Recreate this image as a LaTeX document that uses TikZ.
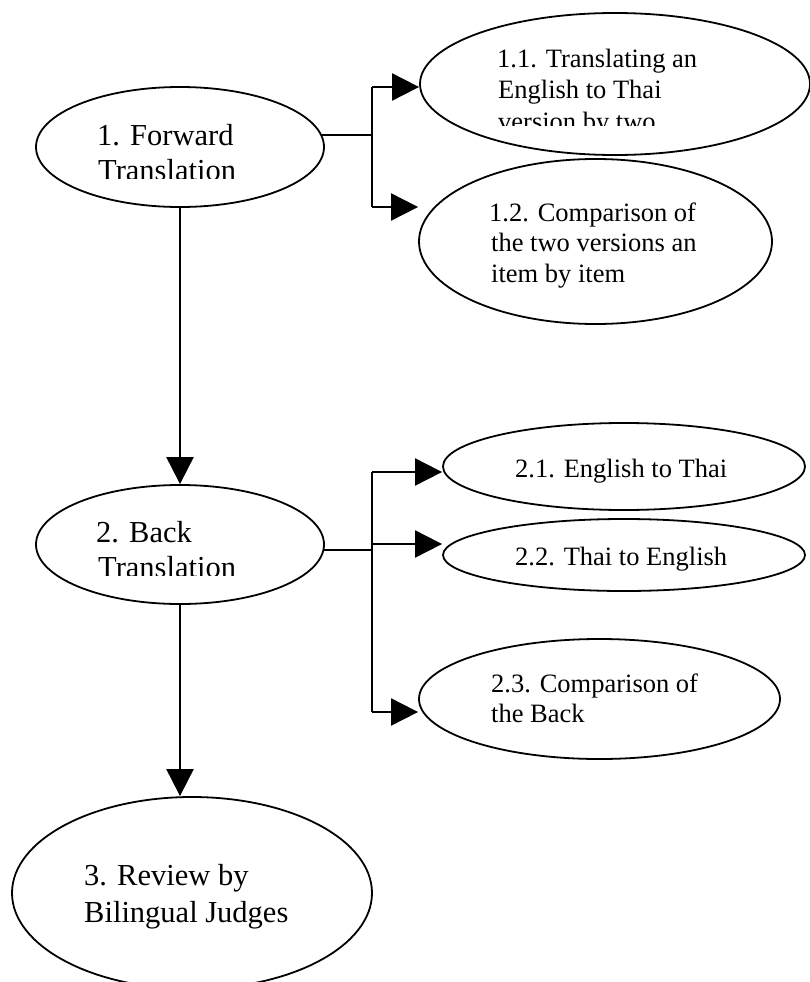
\documentclass[tikz,border=0pt]{standalone}
\usepackage{fontspec}
\setmainfont{Liberation Serif}
\usetikzlibrary{shapes.geometric,arrows.meta}
\tikzset{
  oval/.style={draw=black, line width=1.8pt, ellipse, inner sep=0pt, fill=white},
  bigtxt/.style={anchor=base west, inner sep=0pt, font=\fontsize{30.5}{35}\selectfont},
  smalltxt/.style={anchor=base west, inner sep=0pt, font=\fontsize{26.5}{31}\selectfont},
  conn/.style={line width=2pt, draw=black},
  arr/.style={conn, -{Triangle[length=27pt,width=27pt]}},
}
\begin{document}
\begin{tikzpicture}[x=1pt,y=-1pt]
\useasboundingbox (0,0) rectangle (810,982);
\clip (0,0) rectangle (810,982);
\fill[white] (0,0) rectangle (810,982);

% ellipses
\node[oval, minimum width=288pt, minimum height=120pt] (e1) at (180,147) {};
\node[oval, minimum width=390pt, minimum height=142pt] (e11) at (615,84) {};
\node[oval, minimum width=353pt, minimum height=165pt] (e12) at (595.5,241.5) {};
\node[oval, minimum width=288pt, minimum height=119pt] (e2) at (180,544.5) {};
\node[oval, minimum width=362pt, minimum height=87pt] (e21) at (624,466.5) {};
\node[oval, minimum width=362pt, minimum height=72pt] (e22) at (624,555) {};
\node[oval, minimum width=361pt, minimum height=120pt] (e23) at (599.5,699) {};
\node[oval, minimum width=360pt, minimum height=192pt] (e3) at (192,893) {};

% texts
\node[bigtxt] (t1a) at (97,145) {1. Forward};
\begin{scope}
  \clip (0,0) rectangle (810,178.5);
  \node[bigtxt] (t1b) at (98,180) {Translation};
\end{scope}
\node[smalltxt] (t11a) at (497,67) {1.1. Translating an};
\node[smalltxt] (t11b) at (498,98.5) {English to Thai};
\begin{scope}
  \clip (0,0) rectangle (810,125);
  \node[smalltxt] (t11c) at (498,130) {version by two};
\end{scope}
\node[smalltxt] (t12a) at (489,221) {1.2. Comparison of};
\node[smalltxt] (t12b) at (491,251.5) {the two versions an};
\node[smalltxt] (t12c) at (491,282) {item by item};
\node[bigtxt] (t2a) at (96,542) {2. Back};
\begin{scope}
  \clip (0,400) rectangle (810,575.5);
  \node[bigtxt] (t2b) at (98,577) {Translation};
\end{scope}
\node[smalltxt] (t21) at (515,477) {2.1. English to Thai};
\node[smalltxt] (t22) at (515,565) {2.2. Thai to English};
\node[smalltxt] (t23a) at (491,692) {2.3. Comparison of};
\node[smalltxt] (t23b) at (491,722) {the Back};
\node[bigtxt] (t3a) at (84,885) {3. Review by};
\node[bigtxt] (t3b) at (84,922) {Bilingual Judges};

% branch points
\coordinate (b11) at (372,87);
\coordinate (b12) at (372,207);
\coordinate (b21) at (372,472);
\coordinate (b22) at (372,544);
\coordinate (b23) at (372,712);

% connectors
\draw[conn] (e1.5) -- (e1.5 -| b11);
\draw[conn] (b11) -- (b12);
\draw[arr] (b11) -- (b11 -| e11.west);
\draw[arr] (b12) -- (b12 -| e12.west);
\draw[arr] (e1.south) -- (e2.north);

\draw[conn] (e2.-2) -- (e2.-2 -| b22);
\draw[conn] (b21) -- (b23);
\draw[arr] (b21) -- (b21 -| e21.west);
\draw[arr] (b22) -- (b22 -| e22.west);
\draw[arr] (b23) -- (b23 -| e23.west);
\draw[arr] (e2.south) -- (e2.south |- e3.north);
\end{tikzpicture}
\end{document}
